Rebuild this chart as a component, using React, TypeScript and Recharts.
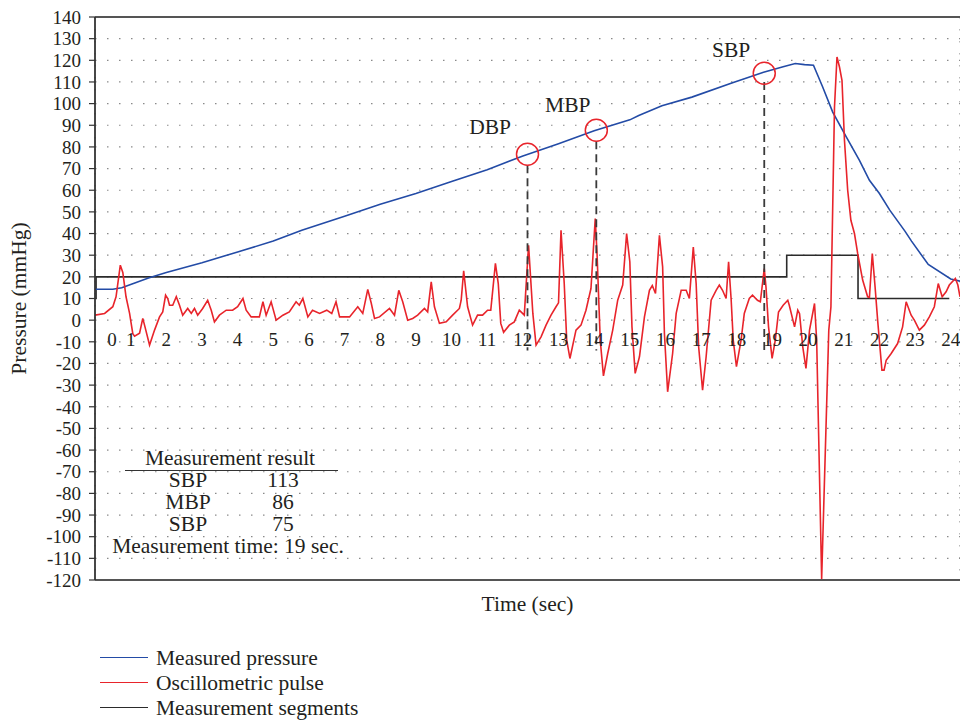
import React from 'react';
import { LineChart, Line, XAxis, YAxis, CartesianGrid, ReferenceLine, ReferenceDot } from 'recharts';

const FONT = '"Liberation Serif", "Times New Roman", serif';
const TEXT = '#231f20';
const BLUE = '#234ba6';
const RED = '#e8242b';
const BLACK = '#2b2b2b';
const LABEL_SIZE = 21.5;
const TICK_SIZE = 19;

// time (sec) ticks and labels
const xTicks = [0, 1, 2, 3, 4, 5, 6, 7, 8, 9, 10, 11, 12, 13, 14, 15, 16, 17, 18, 19, 20, 21, 22, 23, 24];
const yTicks = [-120, -110, -100, -90, -80, -70, -60, -50, -40, -30, -20, -10, 0, 10, 20, 30, 40, 50, 60, 70, 80, 90, 100, 110, 120, 130, 140];

// Measured pressure (mmHg) [t, value]
const measuredPressure: [number, number][] = [
  [0, 14.3], [0.5, 14.3], [0.75, 15], [1, 16.5], [1.5, 19.5], [2, 22], [3, 26.5], [4, 31.5], [5, 36.5],
  [5.8, 41.5], [7, 48], [8, 53.5], [9, 58.5], [10, 64], [11, 69.5], [12, 75.8], [13, 81.5], [14, 87.5],
  [15, 92.5], [15.25, 94.5], [15.9, 99], [16.74, 103], [17.86, 109.5], [18.75, 114.5], [19.3, 117],
  [19.64, 118.5], [19.9, 118], [20.15, 117.7], [20.4, 108], [20.69, 96.1], [21.07, 84.6], [21.44, 73.8],
  [21.72, 64.6], [22, 58.5], [22.29, 50.8], [22.72, 41], [22.9, 36.5], [23.37, 25.7], [24, 19], [24.26, 18],
];

// Oscillometric pulse [t, value]
const oscillometricPulse: [number, number][] = [
  [0, 2.3], [0.27, 3.1], [0.5, 6.2], [0.59, 10.8], [0.71, 25.4], [0.78, 22], [0.87, 10.8], [0.97, 3.1],
  [1.06, -6.2], [1.11, -7.4], [1.25, -6], [1.34, 0.8], [1.4, -3], [1.53, -11.5], [1.67, -4.6], [1.81, 1.5],
  [1.9, 3.8], [1.98, 11.5], [2.04, 10], [2.09, 6.9], [2.18, 6.9], [2.28, 10.8], [2.37, 6.9], [2.46, 2.3],
  [2.6, 5.4], [2.7, 3.1], [2.79, 5.4], [2.88, 2.3], [3.02, 5.4], [3.16, 9.2], [3.26, 4.6], [3.35, -0.8],
  [3.49, 2.3], [3.68, 4.6], [3.86, 4.6], [4.0, 6.2], [4.15, 10], [4.24, 4.6], [4.38, 1.5], [4.61, 1.5],
  [4.71, 8.5], [4.8, 2.3], [4.94, 8.5], [5.08, 0], [5.27, 2.3], [5.45, 3.8], [5.64, 8.5], [5.73, 6.9],
  [5.83, 10], [5.97, 1.5], [6.1, 4.6], [6.3, 3.1], [6.5, 4.6], [6.64, 3.1], [6.76, 8.5], [6.86, 1.5],
  [7.14, 1.5], [7.37, 6.2], [7.51, 3.1], [7.65, 14.2], [7.75, 7.7], [7.84, 0.8], [7.98, 1.5], [8.26, 5.4],
  [8.4, 2.3], [8.52, 13.8], [8.63, 8.5], [8.77, 0], [8.91, 0.8], [9.05, 2.3], [9.24, 5.4], [9.33, 3.8],
  [9.43, 17.7], [9.52, 6.2], [9.66, -1.5], [9.85, -0.8], [10.03, 2.3], [10.22, 5.4], [10.27, 9.2],
  [10.34, 22.8], [10.45, 6.2], [10.59, -2.3], [10.73, 2.3], [10.87, 2.3], [11.01, 4.6], [11.1, 4.6],
  [11.23, 26.2], [11.31, 16.9], [11.38, -1.5], [11.46, -5.6], [11.62, -2.3], [11.76, -0.8], [11.9, 4.6],
  [12.04, 2.3], [12.16, 34.6], [12.28, 3.1], [12.37, -11.5], [12.51, -7.7], [12.65, -2.3], [12.79, 2.3],
  [12.93, 6.2], [13.0, 8], [13.07, 41.5], [13.16, 16.9], [13.23, -9.2], [13.32, -17.7], [13.49, -4.6],
  [13.63, -2.3], [13.77, 4.6], [13.91, 14.6], [14.03, 46.9], [14.08, 30.8], [14.17, -9.2], [14.26, -25.7],
  [14.38, -15.4], [14.52, -4.6], [14.66, 9.2], [14.8, 16.2], [14.91, 40], [15.0, 27], [15.06, -3.1],
  [15.15, -24.6], [15.27, -16.9], [15.41, 1.5], [15.55, 13.8], [15.63, 16], [15.72, 12.3], [15.83, 39.2],
  [15.92, 24.6], [15.97, -6.2], [16.06, -33.1], [16.2, -15.4], [16.3, 3.1], [16.44, 13.8], [16.58, 13.8],
  [16.67, 10], [16.78, 33.8], [16.86, 16.9], [16.93, -12.3], [17.04, -32.3], [17.14, -16.9], [17.28, 9.2],
  [17.42, 13.8], [17.51, 16.2], [17.6, 13.8], [17.7, 10], [17.77, 26.9], [17.84, 10], [17.9, -9.2],
  [17.99, -21.5], [18.12, -9.2], [18.21, 3.1], [18.35, 10], [18.44, 11.5], [18.58, 9.2], [18.66, 8.5],
  [18.77, 23.8], [18.82, 15], [18.89, -3.1], [18.99, -17.7], [19.08, -9.2], [19.17, 3.8], [19.3, 6.9],
  [19.43, 9.2], [19.47, 7], [19.62, -3.1], [19.71, 4.6], [19.76, 3], [19.85, -12.3], [19.94, -22.3],
  [20.04, -4.6], [20.18, 7.7], [20.24, -9.2], [20.38, -119.5], [20.58, -4.6], [20.64, 6.1], [20.74, 98.4],
  [20.81, 121.5], [20.88, 116.9], [20.95, 110.8], [21.02, 83], [21.11, 60], [21.2, 46.1], [21.3, 40],
  [21.39, 30.8], [21.53, 18.5], [21.67, 10.8], [21.72, 10.5], [21.8, 30.8], [21.88, 15], [21.95, 0],
  [22.07, -23.1], [22.13, -23.1], [22.19, -18.5], [22.33, -15.4], [22.51, -10.8], [22.65, -3.1],
  [22.75, 8.5], [22.89, 2.3], [22.98, 0], [23.12, -4.6], [23.26, -2.3], [23.4, 1.5], [23.54, 6.2],
  [23.65, 16.9], [23.76, 10.8], [23.87, 13.1], [23.96, 16.2], [24.13, 19.2], [24.2, 16.2], [24.26, 10.8],
];

// Measurement segments (step) [t, value]
const measurementSegments: [number, number][] = [
  [0, 10], [0.03, 20], [19.4, 30], [21.4, 10], [23.96, 10],
];

// Detected points
const markerNames = ['DBP', 'MBP', 'SBP'];
const markerTimes = [12.13, 14.06, 18.77];
const markerValues = [76.6, 87.7, 114];
const markerTopValues = [71.5, 82.6, 110];
const dashBottom = -14;
const markerLabelTimes = [11.08, 13.26, 17.84];
const markerLabelValues = [89.5, 99.7, 125.1];

// Result table
const resultRows = [
  { name: 'SBP', value: '113' },
  { name: 'MBP', value: '86' },
  { name: 'SBP', value: '75' },
];
const measurementTime = 19;

const legendItems = [
  { name: 'Measured pressure', color: BLUE },
  { name: 'Oscillometric pulse', color: RED },
  { name: 'Measurement segments', color: BLACK },
];

const toRows = (arr: [number, number][]) => arr.map(([t, v]) => ({ t, v }));

const txt: React.CSSProperties = {
  position: 'absolute',
  fontFamily: FONT,
  fontSize: LABEL_SIZE,
  lineHeight: '19px',
  color: TEXT,
  whiteSpace: 'nowrap',
  transform: 'translate(-50%, -50%)',
};

export default function App() {
  return (
    <div style={{ position: 'absolute', left: 0, top: 0, width: 960, height: 723, background: '#fff', overflow: 'hidden' }}>
      <LineChart width={960} height={640} margin={{ top: 17, right: 0, bottom: 20, left: 0 }}>
        <CartesianGrid stroke="#8a8a8a" strokeDasharray="1.5 10.5" strokeWidth={1.2} />
        <XAxis
          dataKey="t"
          type="number"
          domain={[0, 24.26]}
          ticks={xTicks}
          allowDataOverflow
          tick={false}
          tickLine={false}
          height={40}
          axisLine={{ stroke: '#555', strokeWidth: 1.8 }}
          label={{ value: 'Time (sec)', position: 'insideBottom', offset: 9, fill: TEXT, fontSize: LABEL_SIZE, fontFamily: FONT }}
        />
        <YAxis
          type="number"
          domain={[-120, 140]}
          ticks={yTicks}
          interval={0}
          allowDataOverflow
          width={95}
          tickSize={6}
          tickMargin={8}
          tickLine={{ stroke: '#333', strokeWidth: 1.2 }}
          axisLine={{ stroke: '#333', strokeWidth: 1.8 }}
          tick={{ fill: TEXT, fontSize: TICK_SIZE, fontFamily: FONT }}
          label={{
            value: 'Pressure (mmHg)',
            angle: -90,
            position: 'insideLeft',
            offset: 18,
            fill: TEXT,
            fontSize: LABEL_SIZE,
            fontFamily: FONT,
            style: { textAnchor: 'middle' },
          }}
        />
        <ReferenceLine y={140} stroke="#555" strokeWidth={1.8} />
        <Line data={toRows(measurementSegments)} dataKey="v" type="stepAfter" stroke={BLACK} strokeWidth={1.6} dot={false} isAnimationActive={false} />
        <Line data={toRows(measuredPressure)} dataKey="v" type="linear" stroke={BLUE} strokeWidth={1.6} dot={false} isAnimationActive={false} />
        <Line data={toRows(oscillometricPulse)} dataKey="v" type="linear" stroke={RED} strokeWidth={1.6} dot={false} isAnimationActive={false} />
        {markerTimes.map((t, i) => (
          <ReferenceLine
            key={'dash' + i}
            segment={[{ x: t, y: markerTopValues[i] }, { x: t, y: dashBottom }]}
            stroke="#3a3a3a"
            strokeWidth={1.8}
            strokeDasharray="8 5"
          />
        ))}
        {markerTimes.map((t, i) => (
          <ReferenceDot key={'c' + i} x={t} y={markerValues[i]} r={11} fill="none" stroke={RED} strokeWidth={1.5} />
        ))}
        {markerNames.map((n, i) => (
          <ReferenceDot
            key={'l' + i}
            x={markerLabelTimes[i]}
            y={markerLabelValues[i]}
            r={0}
            fill="none"
            stroke="none"
            label={{ value: n, position: 'center', fill: TEXT, fontSize: LABEL_SIZE, fontFamily: FONT }}
          />
        ))}
        {xTicks.map((t) => (
          <ReferenceDot
            key={'xt' + t}
            x={t}
            y={0}
            r={0}
            fill="none"
            stroke="none"
            label={{ value: String(t), position: 'bottom', offset: 12, dx: t === 0 ? 17 : 0, fill: TEXT, fontSize: TICK_SIZE, fontFamily: FONT }}
          />
        ))}
      </LineChart>

      {/* Measurement result table */}
      <div style={{ ...txt, left: 230, top: 458 }}>Measurement result</div>
      <div style={{ position: 'absolute', left: 125, top: 470, width: 213, borderTop: '1.5px solid #333' }} />
      {resultRows.map((r, i) => (
        <React.Fragment key={i}>
          <div style={{ ...txt, left: 188, top: 480 + i * 22 }}>{r.name}</div>
          <div style={{ ...txt, left: 283, top: 480 + i * 22 }}>{r.value}</div>
        </React.Fragment>
      ))}
      <div style={{ ...txt, left: 228, top: 546 }}>{`Measurement time: ${measurementTime} sec.`}</div>

      {/* Legend */}
      {legendItems.map((it, i) => (
        <React.Fragment key={it.name}>
          <div style={{ position: 'absolute', left: 100, top: 657 + i * 25, width: 48, borderTop: `1.5px solid ${it.color}` }} />
          <div style={{ ...txt, transform: 'translate(0, -50%)', left: 156, top: 658 + i * 25 }}>{it.name}</div>
        </React.Fragment>
      ))}
    </div>
  );
}
